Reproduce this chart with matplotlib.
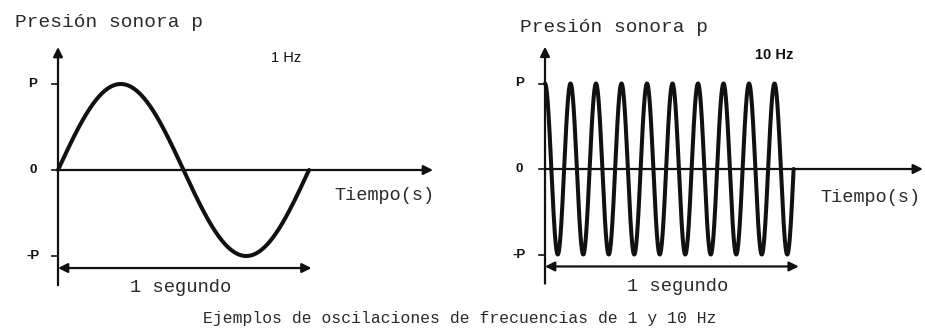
"""Sound pressure oscillations at 1 Hz and 10 Hz."""

import numpy as np
import matplotlib.pyplot as plt

# Panel data: frequency (Hz), drawn duration (s), starting phase (rad)
freqs = [1, 10]
t_end = [1.0, 0.975]
phases = [0.0, np.pi / 2]
freq_labels = ["1 Hz", "10 Hz"]
freq_bold = [False, True]
level_ticks = [1, 0, -1]
level_labels = ["P", "0", "-P"]

W, H = 925, 334
fig = plt.figure(figsize=(W / 100, H / 100), dpi=100)
fig.patch.set_facecolor("white")

mono = "Liberation Mono"
sans = "Liberation Sans"
ink = "#111111"
txt = "#2a2a2a"

# Pixel geometry of each panel: left px, right px, x origin px, px per second,
# zero line px, px per unit of pressure
panels = [
    dict(x0=0, x1=460, ox=58, sx=251, oy=170, sy=86,
         title=(-0.17, 1.71), tiempo=(1.10, -0.30), seg=0.49, hz=(0.91, 1.30),
         xend=1.494, arr_end=1.01),
    dict(x0=460, x1=925, ox=545, sx=255, oy=169, sy=85.5,
         title=(-0.10, 1.66), tiempo=(1.08, -0.33), seg=0.52, hz=(0.90, 1.33),
         xend=1.482, arr_end=0.995),
]

for i, p in enumerate(panels):
    ax = fig.add_axes([p["x0"] / W, 0, (p["x1"] - p["x0"]) / W, 1])
    ax.set_xlim((p["x0"] - p["ox"]) / p["sx"], (p["x1"] - p["ox"]) / p["sx"])
    ax.set_ylim((p["oy"] - H) / p["sy"], p["oy"] / p["sy"])
    ax.axis("off")

    # waveform
    t = np.linspace(0, t_end[i], 2000)
    ax.plot(t, np.sin(2 * np.pi * freqs[i] * t + phases[i]),
            color=ink, lw=2.9, solid_capstyle="round", zorder=3)

    arrow = dict(arrowstyle="-|>", mutation_scale=14, lw=1.6, color=ink,
                 shrinkA=0, shrinkB=0)
    # vertical axis with arrow at top
    ax.annotate("", xy=(0, 1.43), xytext=(0, -1.34), arrowprops=arrow)
    # horizontal time axis
    ax.annotate("", xy=(p["xend"], 0), xytext=(0, 0), arrowprops=arrow)
    # one-second span marker
    dbl = dict(arrow, arrowstyle="<|-|>")
    ax.annotate("", xy=(p["arr_end"], -1.14), xytext=(0, -1.14), arrowprops=dbl)

    # pressure level ticks and labels
    for lv, lab in zip(level_ticks, level_labels):
        ax.plot([-0.025, 0], [lv, lv], color=ink, lw=1.2)
        ax.text(-0.10, lv, lab, ha="center", va="center", fontsize=9.5,
                fontweight="bold", family=sans, color=ink)

    ax.text(*p["title"], "Presión sonora p", ha="left", va="center",
            fontsize=14, family=mono, color=txt)
    ax.text(*p["tiempo"], "Tiempo(s)", ha="left", va="center",
            fontsize=13.3, family=mono, color=txt)
    ax.text(p["seg"], -1.37, "1 segundo", ha="center", va="center",
            fontsize=13.5, family=mono, color=txt)
    ax.text(*p["hz"], freq_labels[i], ha="center", va="center",
            fontsize=10.5, family=sans, color=ink,
            fontweight="bold" if freq_bold[i] else "normal")

fig.text(460 / W, 1 - 319 / H,
         "Ejemplos de oscilaciones de frecuencias de 1 y 10 Hz",
         ha="center", va="center", fontsize=11.8, family=mono, color=txt)

fig.savefig("out.png", dpi=100, facecolor="white")
